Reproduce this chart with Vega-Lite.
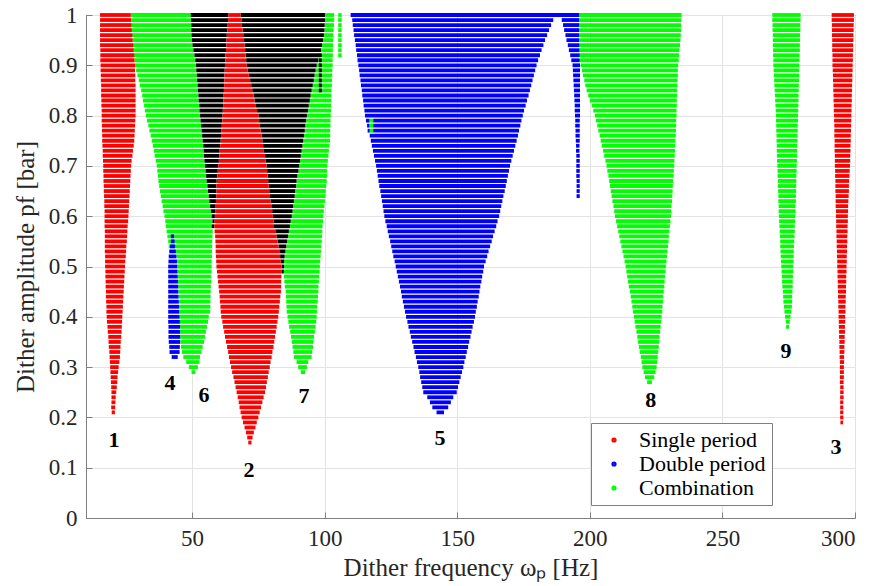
{
"$schema":"https://vega.github.io/schema/vega-lite/v6.json",
"width":769,"height":503,
"autosize":{"type":"none"},
"padding":{"left":86,"top":15,"right":18,"bottom":68},
"background":"white",
"config":{
"view":{"stroke":"#7f7f7f","strokeWidth":1},
"axis":{"labelFont":"Liberation Serif","titleFont":"Liberation Serif","labelFontSize":23,"titleFontSize":25,"titleFontWeight":"normal","labelColor":"#262626","titleColor":"#262626","domainColor":"#7f7f7f","tickColor":"#7f7f7f","gridColor":"#e3e3e3","tickSize":-6,"labelPadding":15}
},
"datasets":{
"S":[
{"y":1,"a":15.3,"b":26.9},{"y":0.99,"a":15.3,"b":27.0},{"y":0.98,"a":15.3,"b":27.2},{"y":0.97,"a":15.3,"b":27.3},{"y":0.96,"a":15.3,"b":27.5},{"y":0.95,"a":15.3,"b":27.6},{"y":0.94,"a":15.3,"b":27.8},{"y":0.93,"a":15.4,"b":28.0},{"y":0.92,"a":15.4,"b":28.2},{"y":0.91,"a":15.4,"b":28.3},
{"y":0.9,"a":15.5,"b":28.5},{"y":0.89,"a":15.5,"b":28.5},{"y":0.88,"a":15.6,"b":28.6},{"y":0.87,"a":15.6,"b":28.6},{"y":0.86,"a":15.7,"b":28.7},{"y":0.85,"a":15.7,"b":28.7},{"y":0.84,"a":15.7,"b":28.7},{"y":0.83,"a":15.8,"b":28.7},{"y":0.82,"a":15.8,"b":28.7},{"y":0.81,"a":15.9,"b":28.7},
{"y":0.8,"a":15.9,"b":28.7},{"y":0.79,"a":15.9,"b":28.6},{"y":0.78,"a":16.0,"b":28.5},{"y":0.77,"a":16.0,"b":28.4},{"y":0.76,"a":16.1,"b":28.3},{"y":0.75,"a":16.1,"b":28.2},{"y":0.74,"a":16.2,"b":28.0},{"y":0.73,"a":16.3,"b":27.7},{"y":0.72,"a":16.3,"b":27.5},{"y":0.71,"a":16.4,"b":27.2},
{"y":0.7,"a":16.5,"b":27.0},{"y":0.69,"a":16.5,"b":26.9},{"y":0.68,"a":16.6,"b":26.8},{"y":0.67,"a":16.6,"b":26.7},{"y":0.66,"a":16.7,"b":26.6},{"y":0.65,"a":16.7,"b":26.5},{"y":0.64,"a":16.8,"b":26.4},{"y":0.63,"a":16.9,"b":26.3},{"y":0.62,"a":16.9,"b":26.2},{"y":0.61,"a":17.0,"b":26.1},
{"y":0.6,"a":17.0,"b":26.0},{"y":0.59,"a":17.0,"b":25.9},{"y":0.58,"a":17.0,"b":25.7},{"y":0.57,"a":17.1,"b":25.6},{"y":0.56,"a":17.1,"b":25.5},{"y":0.55,"a":17.1,"b":25.4},{"y":0.54,"a":17.1,"b":25.2},{"y":0.53,"a":17.1,"b":25.1},{"y":0.52,"a":17.2,"b":25.0},{"y":0.51,"a":17.2,"b":24.8},
{"y":0.5,"a":17.2,"b":24.7},{"y":0.49,"a":17.3,"b":24.6},{"y":0.48,"a":17.3,"b":24.5},{"y":0.47,"a":17.4,"b":24.4},{"y":0.46,"a":17.4,"b":24.3},{"y":0.45,"a":17.5,"b":24.2},{"y":0.44,"a":17.5,"b":24.1},{"y":0.43,"a":17.6,"b":24.0},{"y":0.42,"a":17.7,"b":23.9},{"y":0.41,"a":17.7,"b":23.8},
{"y":0.4,"a":17.8,"b":23.7},{"y":0.39,"a":17.9,"b":23.6},{"y":0.38,"a":18.1,"b":23.5},{"y":0.37,"a":18.2,"b":23.4},{"y":0.36,"a":18.4,"b":23.3},{"y":0.35,"a":18.5,"b":23.1},{"y":0.34,"a":18.6,"b":23.0},{"y":0.33,"a":18.8,"b":22.9},{"y":0.32,"a":18.9,"b":22.8},{"y":0.31,"a":19.0,"b":22.6},
{"y":0.3,"a":19.1,"b":22.3},{"y":0.29,"a":19.2,"b":22.1},{"y":0.28,"a":19.3,"b":21.9},{"y":0.27,"a":19.4,"b":21.8},{"y":0.26,"a":19.5,"b":21.6},{"y":0.25,"a":19.6,"b":21.4},{"y":0.24,"a":19.6,"b":21.2},{"y":0.23,"a":19.6,"b":21.1},{"y":0.22,"a":19.5,"b":21.0},{"y":0.21,"a":19.7,"b":20.9},
{"y":1,"a":63.7,"b":68.3},{"y":0.99,"a":63.6,"b":68.6},{"y":0.98,"a":63.4,"b":68.8},{"y":0.97,"a":63.3,"b":69.1},{"y":0.96,"a":63.1,"b":69.3},{"y":0.95,"a":63.0,"b":69.6},{"y":0.94,"a":62.9,"b":69.8},{"y":0.93,"a":62.8,"b":70.0},{"y":0.92,"a":62.6,"b":70.2},{"y":0.91,"a":62.5,"b":70.4},
{"y":0.9,"a":62.4,"b":70.6},{"y":0.89,"a":62.3,"b":71.0},{"y":0.88,"a":62.2,"b":71.4},{"y":0.87,"a":62.2,"b":71.9},{"y":0.86,"a":62.1,"b":72.3},{"y":0.85,"a":62.0,"b":72.7},{"y":0.84,"a":61.9,"b":73.2},{"y":0.83,"a":61.8,"b":73.6},{"y":0.82,"a":61.7,"b":74.1},{"y":0.81,"a":61.6,"b":74.5},
{"y":0.8,"a":61.5,"b":75.0},{"y":0.79,"a":61.4,"b":75.3},{"y":0.78,"a":61.2,"b":75.6},{"y":0.77,"a":61.1,"b":75.9},{"y":0.76,"a":60.9,"b":76.2},{"y":0.75,"a":60.8,"b":76.5},{"y":0.74,"a":60.6,"b":76.8},{"y":0.73,"a":60.4,"b":77.1},{"y":0.72,"a":60.3,"b":77.5},{"y":0.71,"a":60.1,"b":77.8},
{"y":0.7,"a":59.9,"b":78.1},{"y":0.69,"a":59.7,"b":78.3},{"y":0.68,"a":59.5,"b":78.5},{"y":0.67,"a":59.3,"b":78.7},{"y":0.66,"a":59.2,"b":78.9},{"y":0.65,"a":59.2,"b":79.1},{"y":0.64,"a":59.1,"b":79.4},{"y":0.63,"a":59.0,"b":79.6},{"y":0.62,"a":58.9,"b":79.9},{"y":0.61,"a":58.7,"b":80.2},
{"y":0.6,"a":58.6,"b":80.5},{"y":0.59,"a":58.5,"b":80.7},{"y":0.58,"a":58.4,"b":80.9},{"y":0.57,"a":58.5,"b":81.4},{"y":0.56,"a":58.7,"b":81.8},{"y":0.55,"a":58.8,"b":82.3},{"y":0.54,"a":58.9,"b":82.6},{"y":0.53,"a":58.9,"b":82.9},{"y":0.52,"a":59.0,"b":83.2},{"y":0.51,"a":59.1,"b":83.5},
{"y":0.5,"a":59.2,"b":83.8},{"y":0.49,"a":59.4,"b":83.7},{"y":0.48,"a":59.6,"b":83.7},{"y":0.47,"a":59.8,"b":83.6},{"y":0.46,"a":60.0,"b":83.6},{"y":0.45,"a":60.2,"b":83.5},{"y":0.44,"a":60.4,"b":83.3},{"y":0.43,"a":60.5,"b":83.1},{"y":0.42,"a":60.7,"b":82.9},{"y":0.41,"a":60.8,"b":82.7},
{"y":0.4,"a":61.0,"b":82.5},{"y":0.39,"a":61.4,"b":82.2},{"y":0.38,"a":61.7,"b":81.9},{"y":0.37,"a":62.1,"b":81.6},{"y":0.36,"a":62.4,"b":81.3},{"y":0.35,"a":62.8,"b":81.0},{"y":0.34,"a":63.2,"b":80.7},{"y":0.33,"a":63.6,"b":80.3},{"y":0.32,"a":63.9,"b":80.0},{"y":0.31,"a":64.3,"b":79.6},
{"y":0.3,"a":64.7,"b":79.3},{"y":0.29,"a":65.1,"b":78.9},{"y":0.28,"a":65.6,"b":78.6},{"y":0.27,"a":66.0,"b":78.2},{"y":0.26,"a":66.4,"b":77.9},{"y":0.25,"a":66.8,"b":77.5},{"y":0.24,"a":67.2,"b":77.0},{"y":0.23,"a":67.6,"b":76.5},{"y":0.22,"a":67.9,"b":76.0},{"y":0.21,"a":68.3,"b":75.5},
{"y":0.2,"a":68.7,"b":75.0},{"y":0.19,"a":69.2,"b":74.4},{"y":0.18,"a":69.8,"b":73.9},{"y":0.17,"a":70.3,"b":73.3},{"y":0.16,"a":70.8,"b":72.8},{"y":0.15,"a":71.2,"b":72.4},
{"y":1,"a":291.2,"b":299.6},{"y":0.99,"a":291.2,"b":299.6},{"y":0.98,"a":291.3,"b":299.5},{"y":0.97,"a":291.3,"b":299.5},{"y":0.96,"a":291.3,"b":299.4},{"y":0.95,"a":291.4,"b":299.4},{"y":0.94,"a":291.4,"b":299.3},{"y":0.93,"a":291.4,"b":299.3},{"y":0.92,"a":291.5,"b":299.2},{"y":0.91,"a":291.5,"b":299.2},
{"y":0.9,"a":291.5,"b":299.1},{"y":0.89,"a":291.6,"b":299.1},{"y":0.88,"a":291.7,"b":299.0},{"y":0.87,"a":291.7,"b":299.0},{"y":0.86,"a":291.8,"b":298.9},{"y":0.85,"a":291.8,"b":298.9},{"y":0.84,"a":291.9,"b":298.8},{"y":0.83,"a":291.9,"b":298.8},{"y":0.82,"a":292.0,"b":298.7},{"y":0.81,"a":292.0,"b":298.7},
{"y":0.8,"a":292.1,"b":298.6},{"y":0.79,"a":292.1,"b":298.6},{"y":0.78,"a":292.2,"b":298.5},{"y":0.77,"a":292.2,"b":298.5},{"y":0.76,"a":292.2,"b":298.4},{"y":0.75,"a":292.3,"b":298.4},{"y":0.74,"a":292.3,"b":298.3},{"y":0.73,"a":292.3,"b":298.3},{"y":0.72,"a":292.4,"b":298.2},{"y":0.71,"a":292.4,"b":298.2},
{"y":0.7,"a":292.4,"b":298.1},{"y":0.69,"a":292.5,"b":298.0},{"y":0.68,"a":292.5,"b":297.9},{"y":0.67,"a":292.6,"b":297.8},{"y":0.66,"a":292.6,"b":297.7},{"y":0.65,"a":292.6,"b":297.7},{"y":0.64,"a":292.7,"b":297.6},{"y":0.63,"a":292.7,"b":297.5},{"y":0.62,"a":292.7,"b":297.4},{"y":0.61,"a":292.8,"b":297.4},
{"y":0.6,"a":292.8,"b":297.3},{"y":0.59,"a":292.9,"b":297.3},{"y":0.58,"a":292.9,"b":297.2},{"y":0.57,"a":293.0,"b":297.2},{"y":0.56,"a":293.0,"b":297.1},{"y":0.55,"a":293.1,"b":297.1},{"y":0.54,"a":293.1,"b":297.0},{"y":0.53,"a":293.2,"b":297.0},{"y":0.52,"a":293.2,"b":296.9},{"y":0.51,"a":293.3,"b":296.9},
{"y":0.5,"a":293.3,"b":296.8},{"y":0.49,"a":293.4,"b":296.8},{"y":0.48,"a":293.4,"b":296.7},{"y":0.47,"a":293.5,"b":296.7},{"y":0.46,"a":293.5,"b":296.6},{"y":0.45,"a":293.6,"b":296.6},{"y":0.44,"a":293.6,"b":296.5},{"y":0.43,"a":293.7,"b":296.5},{"y":0.42,"a":293.7,"b":296.4},{"y":0.41,"a":293.8,"b":296.4},
{"y":0.4,"a":293.8,"b":296.3},{"y":0.39,"a":293.9,"b":296.3},{"y":0.38,"a":293.9,"b":296.2},{"y":0.37,"a":294.0,"b":296.2},{"y":0.36,"a":294.0,"b":296.1},{"y":0.35,"a":294.1,"b":296.1},{"y":0.34,"a":294.1,"b":296.0},{"y":0.33,"a":294.2,"b":296.0},{"y":0.32,"a":294.2,"b":295.9},{"y":0.31,"a":294.3,"b":295.9},
{"y":0.3,"a":294.3,"b":295.8},{"y":0.29,"a":294.3,"b":295.8},{"y":0.28,"a":294.3,"b":295.8},{"y":0.27,"a":294.3,"b":295.7},{"y":0.26,"a":294.4,"b":295.7},{"y":0.25,"a":294.4,"b":295.7},{"y":0.24,"a":294.4,"b":295.7},{"y":0.23,"a":294.4,"b":295.6},{"y":0.22,"a":294.4,"b":295.6},{"y":0.21,"a":294.4,"b":295.6},
{"y":0.2,"a":294.4,"b":295.6},{"y":0.19,"a":294.5,"b":295.5}
],
"D":[
{"y":1,"a":109.8,"b":196.0},{"y":0.99,"a":110.4,"b":186.2},{"y":0.98,"a":110.6,"b":185.4},{"y":0.97,"a":110.9,"b":184.6},{"y":0.96,"a":111.1,"b":183.9},{"y":0.95,"a":111.4,"b":183.1},{"y":0.94,"a":111.7,"b":182.5},{"y":0.93,"a":111.9,"b":181.8},{"y":0.92,"a":112.2,"b":181.2},{"y":0.91,"a":112.4,"b":180.5},
{"y":0.9,"a":112.7,"b":179.9},{"y":0.89,"a":113.0,"b":179.4},{"y":0.88,"a":113.2,"b":178.9},{"y":0.87,"a":113.5,"b":178.4},{"y":0.86,"a":113.7,"b":177.9},{"y":0.85,"a":114.0,"b":177.4},{"y":0.84,"a":114.2,"b":176.9},{"y":0.83,"a":114.5,"b":176.3},{"y":0.82,"a":114.7,"b":175.8},{"y":0.81,"a":115.0,"b":175.2},
{"y":0.8,"a":115.2,"b":174.7},{"y":0.79,"a":115.6,"b":116.9},{"y":0.79,"a":118.3,"b":174.2},{"y":0.78,"a":116.0,"b":116.9},{"y":0.78,"a":118.3,"b":173.8},{"y":0.77,"a":116.2,"b":117.0},{"y":0.77,"a":118.3,"b":173.3},{"y":0.76,"a":117.0,"b":172.9},{"y":0.75,"a":117.4,"b":172.4},{"y":0.74,"a":117.8,"b":171.9},{"y":0.73,"a":118.2,"b":171.4},{"y":0.72,"a":118.6,"b":170.9},{"y":0.71,"a":119.0,"b":170.4},
{"y":0.7,"a":119.4,"b":169.9},{"y":0.69,"a":119.7,"b":169.5},{"y":0.68,"a":120.0,"b":169.1},{"y":0.67,"a":120.3,"b":168.7},{"y":0.66,"a":120.6,"b":168.3},{"y":0.65,"a":121.0,"b":167.9},{"y":0.64,"a":121.3,"b":167.4},{"y":0.63,"a":121.6,"b":167.0},{"y":0.62,"a":121.9,"b":166.6},{"y":0.61,"a":122.2,"b":166.2},
{"y":0.6,"a":122.5,"b":165.8},{"y":0.59,"a":122.9,"b":165.2},{"y":0.58,"a":123.4,"b":164.7},{"y":0.57,"a":123.8,"b":164.1},{"y":0.56,"a":124.2,"b":163.5},{"y":0.55,"a":124.7,"b":163.0},{"y":0.54,"a":125.1,"b":162.4},{"y":0.53,"a":125.5,"b":161.8},{"y":0.52,"a":125.9,"b":161.3},{"y":0.51,"a":126.4,"b":160.7},
{"y":0.5,"a":126.8,"b":160.1},{"y":0.49,"a":127.2,"b":159.8},{"y":0.48,"a":127.6,"b":159.4},{"y":0.47,"a":128.0,"b":159.1},{"y":0.46,"a":128.4,"b":158.7},{"y":0.45,"a":128.8,"b":158.4},{"y":0.44,"a":129.1,"b":158.1},{"y":0.43,"a":129.5,"b":157.7},{"y":0.42,"a":129.9,"b":157.4},{"y":0.41,"a":130.3,"b":157.0},
{"y":0.4,"a":130.7,"b":156.7},{"y":0.39,"a":131.2,"b":156.3},{"y":0.38,"a":131.6,"b":155.8},{"y":0.37,"a":132.1,"b":155.4},{"y":0.36,"a":132.5,"b":155.0},{"y":0.35,"a":133.0,"b":154.5},{"y":0.34,"a":133.5,"b":154.1},{"y":0.33,"a":133.9,"b":153.6},{"y":0.32,"a":134.4,"b":153.2},{"y":0.31,"a":134.8,"b":152.7},
{"y":0.3,"a":135.3,"b":152.3},{"y":0.29,"a":135.7,"b":151.8},{"y":0.28,"a":136.0,"b":151.3},{"y":0.27,"a":136.4,"b":150.8},{"y":0.26,"a":136.8,"b":150.3},{"y":0.25,"a":137.2,"b":149.8},{"y":0.24,"a":138.7,"b":148.5},{"y":0.23,"a":139.7,"b":147.6},{"y":0.22,"a":140.6,"b":146.6},{"y":0.21,"a":142.2,"b":145.0},
{"y":0.99,"a":189.4,"b":196.0},{"y":0.98,"a":189.9,"b":196.0},{"y":0.97,"a":190.3,"b":196.0},{"y":0.96,"a":190.8,"b":196.0},{"y":0.95,"a":191.2,"b":196.0},{"y":0.94,"a":191.7,"b":196.1},{"y":0.93,"a":192.1,"b":196.1},{"y":0.92,"a":192.6,"b":196.2},{"y":0.91,"a":193.0,"b":196.2},{"y":0.9,"a":193.5,"b":196.3},
{"y":0.89,"a":193.6,"b":196.3},{"y":0.88,"a":193.7,"b":196.3},{"y":0.87,"a":193.8,"b":196.3},{"y":0.86,"a":193.9,"b":196.3},{"y":0.85,"a":194.0,"b":196.3},{"y":0.84,"a":194.1,"b":196.3},{"y":0.83,"a":194.2,"b":196.3},{"y":0.82,"a":194.3,"b":196.3},{"y":0.81,"a":194.3,"b":196.3},{"y":0.8,"a":194.4,"b":196.3},
{"y":0.79,"a":194.5,"b":196.2},{"y":0.78,"a":194.5,"b":196.2},{"y":0.77,"a":194.6,"b":196.2},{"y":0.76,"a":194.6,"b":196.2},{"y":0.75,"a":194.7,"b":196.2},{"y":0.74,"a":194.8,"b":196.1},{"y":0.73,"a":194.8,"b":196.1},{"y":0.72,"a":194.9,"b":196.2},{"y":0.71,"a":194.9,"b":196.2},{"y":0.7,"a":194.9,"b":196.2},
{"y":0.69,"a":194.9,"b":196.2},{"y":0.68,"a":194.9,"b":196.2},{"y":0.67,"a":195.0,"b":196.2},{"y":0.66,"a":195.0,"b":196.2},{"y":0.65,"a":195.0,"b":196.2},{"y":0.64,"a":195.0,"b":196.2},
{"y":0.56,"a":42.0,"b":43.2},{"y":0.55,"a":42.0,"b":43.4},{"y":0.54,"a":41.7,"b":43.6},{"y":0.53,"a":41.4,"b":43.9},{"y":0.52,"a":41.2,"b":44.1},{"y":0.51,"a":41.1,"b":44.3},{"y":0.5,"a":41.0,"b":44.4},{"y":0.49,"a":41.0,"b":44.5},{"y":0.48,"a":41.0,"b":44.6},{"y":0.47,"a":41.0,"b":44.7},
{"y":0.46,"a":41.0,"b":44.8},{"y":0.45,"a":41.0,"b":44.8},{"y":0.44,"a":41.0,"b":44.9},{"y":0.43,"a":41.0,"b":45.0},{"y":0.42,"a":41.0,"b":45.1},{"y":0.41,"a":41.0,"b":45.2},{"y":0.4,"a":41.0,"b":45.3},{"y":0.39,"a":41.0,"b":45.4},{"y":0.38,"a":41.1,"b":45.5},{"y":0.37,"a":41.1,"b":45.5},
{"y":0.36,"a":41.1,"b":45.5},{"y":0.35,"a":41.2,"b":45.5},{"y":0.34,"a":41.4,"b":45.4},{"y":0.33,"a":41.5,"b":45.3},{"y":0.32,"a":42.3,"b":44.6}
],
"C":[
{"y":1,"a":26.9,"b":49.5},{"y":0.99,"a":27.0,"b":49.6},{"y":0.98,"a":27.1,"b":49.7},{"y":0.97,"a":27.3,"b":49.7},{"y":0.96,"a":27.4,"b":49.8},{"y":0.95,"a":27.5,"b":49.9},{"y":0.94,"a":27.7,"b":50.2},{"y":0.93,"a":27.9,"b":50.5},{"y":0.92,"a":28.1,"b":50.9},{"y":0.91,"a":28.3,"b":51.2},
{"y":0.9,"a":28.5,"b":51.5},{"y":0.89,"a":28.9,"b":51.6},{"y":0.88,"a":29.4,"b":51.8},{"y":0.87,"a":29.9,"b":51.9},{"y":0.86,"a":30.3,"b":52.1},{"y":0.85,"a":30.8,"b":52.2},{"y":0.84,"a":31.2,"b":52.4},{"y":0.83,"a":31.5,"b":52.5},{"y":0.82,"a":31.9,"b":52.7},{"y":0.81,"a":32.2,"b":52.8},
{"y":0.8,"a":32.6,"b":53.0},{"y":0.79,"a":33.0,"b":53.2},{"y":0.78,"a":33.5,"b":53.4},{"y":0.77,"a":33.9,"b":53.6},{"y":0.76,"a":34.4,"b":53.8},{"y":0.75,"a":34.8,"b":54.0},{"y":0.74,"a":35.2,"b":54.2},{"y":0.73,"a":35.6,"b":54.4},{"y":0.72,"a":35.9,"b":54.5},{"y":0.71,"a":36.3,"b":54.7},
{"y":0.7,"a":36.7,"b":54.9},{"y":0.69,"a":36.9,"b":55.1},{"y":0.68,"a":37.1,"b":55.3},{"y":0.67,"a":37.3,"b":55.5},{"y":0.66,"a":37.6,"b":55.8},{"y":0.65,"a":37.9,"b":56.0},{"y":0.64,"a":38.2,"b":56.3},{"y":0.63,"a":38.5,"b":56.5},{"y":0.62,"a":38.9,"b":56.8},{"y":0.61,"a":39.2,"b":57.1},
{"y":0.6,"a":39.6,"b":57.4},{"y":0.59,"a":39.9,"b":57.7},{"y":0.58,"a":40.1,"b":57.4},{"y":0.57,"a":40.4,"b":57.8},{"y":0.56,"a":40.7,"b":57.7},{"y":0.55,"a":41.0,"b":57.6},{"y":0.54,"a":41.2,"b":57.6},{"y":0.53,"a":43.9,"b":57.5},{"y":0.52,"a":44.1,"b":57.5},{"y":0.51,"a":44.3,"b":57.4},
{"y":0.5,"a":44.4,"b":57.4},{"y":0.49,"a":44.5,"b":57.3},{"y":0.48,"a":44.6,"b":57.2},{"y":0.47,"a":44.7,"b":57.2},{"y":0.46,"a":44.8,"b":57.1},{"y":0.45,"a":44.8,"b":57.0},{"y":0.44,"a":44.9,"b":57.0},{"y":0.43,"a":45.0,"b":56.9},{"y":0.42,"a":45.1,"b":56.9},{"y":0.41,"a":45.2,"b":56.8},
{"y":0.4,"a":45.3,"b":56.3},{"y":0.39,"a":45.4,"b":56.0},{"y":0.38,"a":45.5,"b":55.6},{"y":0.37,"a":45.5,"b":55.2},{"y":0.36,"a":45.5,"b":54.9},{"y":0.35,"a":45.6,"b":54.5},{"y":0.34,"a":45.8,"b":54.0},{"y":0.33,"a":46.2,"b":53.5},{"y":0.32,"a":46.7,"b":53.0},{"y":0.31,"a":47.8,"b":52.8},
{"y":0.3,"a":48.8,"b":52.2},{"y":0.29,"a":49.8,"b":51.2},
{"y":1,"a":100.1,"b":103.6},{"y":0.99,"a":100.1,"b":103.6},{"y":0.98,"a":100.0,"b":103.5},{"y":0.97,"a":99.9,"b":103.4},{"y":0.96,"a":99.7,"b":103.3},{"y":0.95,"a":99.4,"b":103.2},{"y":0.94,"a":99.0,"b":103.2},{"y":0.93,"a":98.6,"b":103.1},{"y":0.92,"a":98.1,"b":103.1},{"y":0.91,"a":97.6,"b":103.0},
{"y":0.9,"a":97.0,"b":103.0},{"y":0.89,"a":96.6,"b":102.9},{"y":0.88,"a":96.2,"b":102.8},{"y":0.87,"a":95.9,"b":102.8},{"y":0.86,"a":95.5,"b":102.7},{"y":0.85,"a":95.1,"b":102.6},{"y":0.84,"a":94.7,"b":102.5},{"y":0.83,"a":94.4,"b":102.5},{"y":0.82,"a":94.0,"b":102.4},{"y":0.81,"a":93.7,"b":102.4},
{"y":0.8,"a":93.3,"b":102.3},{"y":0.79,"a":93.0,"b":102.2},{"y":0.78,"a":92.7,"b":102.2},{"y":0.77,"a":92.5,"b":102.1},{"y":0.76,"a":92.2,"b":102.1},{"y":0.75,"a":91.9,"b":102.0},{"y":0.74,"a":91.6,"b":101.8},{"y":0.73,"a":91.3,"b":101.6},{"y":0.72,"a":91.0,"b":101.4},{"y":0.71,"a":90.7,"b":101.2},
{"y":0.7,"a":90.4,"b":101.0},{"y":0.69,"a":90.1,"b":100.9},{"y":0.68,"a":89.7,"b":100.9},{"y":0.67,"a":89.4,"b":100.8},{"y":0.66,"a":89.2,"b":100.6},{"y":0.65,"a":88.9,"b":100.4},{"y":0.64,"a":88.7,"b":100.3},{"y":0.63,"a":88.4,"b":100.1},{"y":0.62,"a":88.1,"b":99.9},{"y":0.61,"a":87.9,"b":99.7},
{"y":0.6,"a":87.6,"b":99.5},{"y":0.59,"a":87.2,"b":99.4},{"y":0.58,"a":86.9,"b":99.2},{"y":0.57,"a":86.5,"b":99.1},{"y":0.56,"a":86.2,"b":99.0},{"y":0.55,"a":85.8,"b":98.9},{"y":0.54,"a":85.5,"b":98.7},{"y":0.53,"a":85.2,"b":98.6},{"y":0.52,"a":84.9,"b":98.5},{"y":0.51,"a":84.7,"b":98.3},
{"y":0.5,"a":84.7,"b":98.2},{"y":0.49,"a":84.6,"b":98.1},{"y":0.48,"a":84.6,"b":98.0},{"y":0.47,"a":84.8,"b":97.8},{"y":0.46,"a":85.0,"b":97.7},{"y":0.45,"a":85.3,"b":97.6},{"y":0.44,"a":85.4,"b":97.5},{"y":0.43,"a":85.5,"b":97.4},{"y":0.42,"a":85.6,"b":97.2},{"y":0.41,"a":85.7,"b":97.1},
{"y":0.4,"a":86.0,"b":97.0},{"y":0.39,"a":86.3,"b":96.8},{"y":0.38,"a":86.6,"b":96.6},{"y":0.37,"a":87.0,"b":96.3},{"y":0.36,"a":87.3,"b":96.0},{"y":0.35,"a":87.6,"b":95.8},{"y":0.34,"a":87.9,"b":95.6},{"y":0.33,"a":88.2,"b":95.3},{"y":0.32,"a":88.4,"b":95.1},{"y":0.31,"a":89.4,"b":93.8},
{"y":0.3,"a":90.0,"b":93.3},{"y":0.29,"a":91.0,"b":92.6},
{"y":1,"a":105.1,"b":106.4},{"y":0.99,"a":105.1,"b":106.4},{"y":0.98,"a":105.1,"b":106.4},{"y":0.97,"a":105.1,"b":106.4},{"y":0.96,"a":105.1,"b":106.4},{"y":0.95,"a":105.1,"b":106.4},{"y":0.94,"a":105.1,"b":106.4},{"y":0.93,"a":105.1,"b":106.4},{"y":0.92,"a":105.1,"b":106.4},
{"y":0.79,"a":116.9,"b":118.3},{"y":0.78,"a":116.9,"b":118.3},{"y":0.77,"a":117.0,"b":118.3},
{"y":1,"a":196.0,"b":234.6},{"y":0.99,"a":196.0,"b":234.5},{"y":0.98,"a":196.0,"b":234.4},{"y":0.97,"a":196.0,"b":234.4},{"y":0.96,"a":196.0,"b":234.3},{"y":0.95,"a":196.0,"b":234.2},{"y":0.94,"a":196.1,"b":234.0},{"y":0.93,"a":196.1,"b":233.8},{"y":0.92,"a":196.2,"b":233.7},{"y":0.91,"a":196.3,"b":233.5},
{"y":0.9,"a":196.5,"b":233.3},{"y":0.89,"a":197.0,"b":233.2},{"y":0.88,"a":197.4,"b":233.2},{"y":0.87,"a":197.9,"b":233.1},{"y":0.86,"a":198.3,"b":233.0},{"y":0.85,"a":198.8,"b":232.9},{"y":0.84,"a":199.4,"b":232.9},{"y":0.83,"a":200.0,"b":232.8},{"y":0.82,"a":200.7,"b":232.8},{"y":0.81,"a":201.3,"b":232.7},
{"y":0.8,"a":201.9,"b":232.7},{"y":0.79,"a":202.3,"b":232.6},{"y":0.78,"a":202.8,"b":232.5},{"y":0.77,"a":203.2,"b":232.5},{"y":0.76,"a":203.7,"b":232.4},{"y":0.75,"a":204.1,"b":232.3},{"y":0.74,"a":204.5,"b":232.2},{"y":0.73,"a":205.0,"b":232.1},{"y":0.72,"a":205.4,"b":232.0},{"y":0.71,"a":205.9,"b":231.9},
{"y":0.7,"a":206.3,"b":231.8},{"y":0.69,"a":206.6,"b":231.7},{"y":0.68,"a":207.0,"b":231.6},{"y":0.67,"a":207.3,"b":231.4},{"y":0.66,"a":207.6,"b":231.3},{"y":0.65,"a":207.9,"b":231.2},{"y":0.64,"a":208.2,"b":231.1},{"y":0.63,"a":208.5,"b":231.0},{"y":0.62,"a":208.9,"b":230.8},{"y":0.61,"a":209.2,"b":230.7},
{"y":0.6,"a":209.5,"b":230.6},{"y":0.59,"a":209.9,"b":230.4},{"y":0.58,"a":210.3,"b":230.2},{"y":0.57,"a":210.7,"b":230.0},{"y":0.56,"a":211.1,"b":229.8},{"y":0.55,"a":211.5,"b":229.7},{"y":0.54,"a":211.9,"b":229.5},{"y":0.53,"a":212.3,"b":229.3},{"y":0.52,"a":212.7,"b":229.1},{"y":0.51,"a":213.1,"b":228.9},
{"y":0.5,"a":213.5,"b":228.7},{"y":0.49,"a":213.8,"b":228.5},{"y":0.48,"a":214.1,"b":228.4},{"y":0.47,"a":214.4,"b":228.2},{"y":0.46,"a":214.7,"b":228.1},{"y":0.45,"a":215.1,"b":227.9},{"y":0.44,"a":215.4,"b":227.7},{"y":0.43,"a":215.7,"b":227.6},{"y":0.42,"a":216.0,"b":227.4},{"y":0.41,"a":216.3,"b":227.3},
{"y":0.4,"a":216.6,"b":227.1},{"y":0.39,"a":216.9,"b":226.9},{"y":0.38,"a":217.2,"b":226.7},{"y":0.37,"a":217.6,"b":226.5},{"y":0.36,"a":217.9,"b":226.3},{"y":0.35,"a":218.2,"b":226.2},{"y":0.34,"a":218.5,"b":226.0},{"y":0.33,"a":218.8,"b":225.8},{"y":0.32,"a":219.2,"b":225.6},{"y":0.31,"a":219.5,"b":225.4},
{"y":0.3,"a":219.8,"b":225.2},{"y":0.29,"a":220.3,"b":224.8},{"y":0.28,"a":220.8,"b":224.3},{"y":0.27,"a":221.6,"b":223.4},
{"y":1,"a":268.8,"b":279.5},{"y":0.99,"a":268.8,"b":279.5},{"y":0.98,"a":268.9,"b":279.4},{"y":0.97,"a":268.9,"b":279.4},{"y":0.96,"a":269.0,"b":279.3},{"y":0.95,"a":269.0,"b":279.3},{"y":0.94,"a":269.0,"b":279.2},{"y":0.93,"a":269.1,"b":279.2},{"y":0.92,"a":269.1,"b":279.1},{"y":0.91,"a":269.2,"b":279.1},
{"y":0.9,"a":269.2,"b":279.0},{"y":0.89,"a":269.3,"b":279.0},{"y":0.88,"a":269.4,"b":278.9},{"y":0.87,"a":269.5,"b":278.9},{"y":0.86,"a":269.6,"b":278.8},{"y":0.85,"a":269.7,"b":278.8},{"y":0.84,"a":269.8,"b":278.7},{"y":0.83,"a":269.9,"b":278.7},{"y":0.82,"a":270.0,"b":278.6},{"y":0.81,"a":270.1,"b":278.6},
{"y":0.8,"a":270.2,"b":278.5},{"y":0.79,"a":270.2,"b":278.5},{"y":0.78,"a":270.3,"b":278.4},{"y":0.77,"a":270.3,"b":278.4},{"y":0.76,"a":270.4,"b":278.3},{"y":0.75,"a":270.4,"b":278.3},{"y":0.74,"a":270.5,"b":278.2},{"y":0.73,"a":270.5,"b":278.2},{"y":0.72,"a":270.6,"b":278.1},{"y":0.71,"a":270.6,"b":278.1},
{"y":0.7,"a":270.7,"b":278.0},{"y":0.69,"a":270.8,"b":278.0},{"y":0.68,"a":270.8,"b":277.9},{"y":0.67,"a":270.9,"b":277.9},{"y":0.66,"a":270.9,"b":277.8},{"y":0.65,"a":271.0,"b":277.8},{"y":0.64,"a":271.1,"b":277.7},{"y":0.63,"a":271.1,"b":277.7},{"y":0.62,"a":271.2,"b":277.6},{"y":0.61,"a":271.2,"b":277.6},
{"y":0.6,"a":271.3,"b":277.5},{"y":0.59,"a":271.4,"b":277.4},{"y":0.58,"a":271.5,"b":277.3},{"y":0.57,"a":271.6,"b":277.3},{"y":0.56,"a":271.7,"b":277.2},{"y":0.55,"a":271.8,"b":277.1},{"y":0.54,"a":271.8,"b":277.0},{"y":0.53,"a":271.9,"b":276.9},{"y":0.52,"a":272.0,"b":276.9},{"y":0.51,"a":272.1,"b":276.8},
{"y":0.5,"a":272.2,"b":276.7},{"y":0.49,"a":272.3,"b":276.7},{"y":0.48,"a":272.4,"b":276.6},{"y":0.47,"a":272.5,"b":276.5},{"y":0.46,"a":272.6,"b":276.5},{"y":0.45,"a":272.8,"b":276.4},{"y":0.44,"a":272.9,"b":276.3},{"y":0.43,"a":273.0,"b":276.3},{"y":0.42,"a":273.2,"b":276.2},{"y":0.41,"a":273.4,"b":276.0},
{"y":0.4,"a":273.6,"b":275.7},{"y":0.39,"a":273.9,"b":275.4},{"y":0.38,"a":274.0,"b":275.1}
],
"K":[
{"y":1,"a":49.5,"b":63.7},{"y":0.99,"a":49.6,"b":63.6},{"y":0.98,"a":49.7,"b":63.4},{"y":0.97,"a":49.7,"b":63.3},{"y":0.96,"a":49.8,"b":63.1},{"y":0.95,"a":49.9,"b":63.0},{"y":0.94,"a":50.2,"b":62.9},{"y":0.93,"a":50.5,"b":62.8},{"y":0.92,"a":50.9,"b":62.6},{"y":0.91,"a":51.2,"b":62.5},
{"y":0.9,"a":51.5,"b":62.4},{"y":0.89,"a":51.6,"b":62.3},{"y":0.88,"a":51.8,"b":62.2},{"y":0.87,"a":51.9,"b":62.2},{"y":0.86,"a":52.1,"b":62.1},{"y":0.85,"a":52.2,"b":62.0},{"y":0.84,"a":52.4,"b":61.9},{"y":0.83,"a":52.5,"b":61.8},{"y":0.82,"a":52.7,"b":61.7},{"y":0.81,"a":52.8,"b":61.6},
{"y":0.8,"a":53.0,"b":61.5},{"y":0.79,"a":53.2,"b":61.4},{"y":0.78,"a":53.4,"b":61.2},{"y":0.77,"a":53.6,"b":61.1},{"y":0.76,"a":53.8,"b":60.9},{"y":0.75,"a":54.0,"b":60.8},{"y":0.74,"a":54.2,"b":60.6},{"y":0.73,"a":54.4,"b":60.4},{"y":0.72,"a":54.5,"b":60.3},{"y":0.71,"a":54.7,"b":60.1},
{"y":0.7,"a":54.9,"b":59.9},{"y":0.69,"a":55.1,"b":59.7},{"y":0.68,"a":55.3,"b":59.5},{"y":0.67,"a":55.5,"b":59.3},{"y":0.66,"a":55.8,"b":59.2},{"y":0.65,"a":56.0,"b":59.2},{"y":0.64,"a":56.3,"b":59.1},{"y":0.63,"a":56.5,"b":59.0},{"y":0.62,"a":56.8,"b":58.9},{"y":0.61,"a":57.1,"b":58.7},
{"y":0.6,"a":57.4,"b":58.6},{"y":0.59,"a":57.7,"b":58.5},{"y":0.58,"a":57.4,"b":58.4},
{"y":1,"a":68.3,"b":100.1},{"y":0.99,"a":68.6,"b":100.1},{"y":0.98,"a":68.8,"b":100.0},{"y":0.97,"a":69.1,"b":99.9},{"y":0.96,"a":69.3,"b":99.7},{"y":0.95,"a":69.6,"b":99.4},{"y":0.94,"a":69.8,"b":99.0},{"y":0.93,"a":70.0,"b":98.6},{"y":0.92,"a":70.2,"b":98.1},{"y":0.91,"a":70.4,"b":97.6},
{"y":0.9,"a":70.6,"b":97.0},{"y":0.89,"a":71.0,"b":96.6},{"y":0.88,"a":71.4,"b":96.2},{"y":0.87,"a":71.9,"b":95.9},{"y":0.86,"a":72.3,"b":95.5},{"y":0.85,"a":72.7,"b":95.1},{"y":0.84,"a":73.2,"b":94.7},{"y":0.83,"a":73.6,"b":94.4},{"y":0.82,"a":74.1,"b":94.0},{"y":0.81,"a":74.5,"b":93.7},
{"y":0.8,"a":75.0,"b":93.3},{"y":0.79,"a":75.3,"b":93.0},{"y":0.78,"a":75.6,"b":92.7},{"y":0.77,"a":75.9,"b":92.5},{"y":0.76,"a":76.2,"b":92.2},{"y":0.75,"a":76.5,"b":91.9},{"y":0.74,"a":76.8,"b":91.6},{"y":0.73,"a":77.1,"b":91.3},{"y":0.72,"a":77.5,"b":91.0},{"y":0.71,"a":77.8,"b":90.7},
{"y":0.7,"a":78.1,"b":90.4},{"y":0.69,"a":78.3,"b":90.1},{"y":0.68,"a":78.5,"b":89.7},{"y":0.67,"a":78.7,"b":89.4},{"y":0.66,"a":78.9,"b":89.2},{"y":0.65,"a":79.1,"b":88.9},{"y":0.64,"a":79.4,"b":88.7},{"y":0.63,"a":79.6,"b":88.4},{"y":0.62,"a":79.9,"b":88.1},{"y":0.61,"a":80.2,"b":87.9},
{"y":0.6,"a":80.5,"b":87.6},{"y":0.59,"a":80.7,"b":87.2},{"y":0.58,"a":80.9,"b":86.9},{"y":0.57,"a":81.4,"b":86.5},{"y":0.56,"a":81.8,"b":86.2},{"y":0.55,"a":82.3,"b":85.8},{"y":0.54,"a":82.6,"b":85.5},{"y":0.53,"a":82.9,"b":85.2},{"y":0.52,"a":83.2,"b":84.9},{"y":0.51,"a":83.5,"b":84.7},
{"y":0.5,"a":83.8,"b":84.7},{"y":0.49,"a":83.7,"b":84.6},
{"y":0.92,"a":97.8,"b":98.9},{"y":0.91,"a":97.8,"b":98.9},{"y":0.9,"a":97.8,"b":98.9},{"y":0.89,"a":97.8,"b":98.9},{"y":0.88,"a":97.8,"b":98.9},{"y":0.87,"a":97.8,"b":98.9},{"y":0.86,"a":97.8,"b":98.9},{"y":0.85,"a":97.8,"b":98.9}
],
"L":[
{"t":"1","a":20.6,"y":0.155},{"t":"2","a":71.5,"y":0.095},{"t":"3","a":292.8,"y":0.141},{"t":"4","a":41.7,"y":0.268},{"t":"5","a":143.5,"y":0.159},{"t":"6","a":54.5,"y":0.245},{"t":"7","a":92.2,"y":0.243},{"t":"8","a":223.0,"y":0.235},{"t":"9","a":274.0,"y":0.332}
]
},
"encoding":{
"x":{"field":"a","type":"quantitative","scale":{"domain":[10,300],"nice":false},"axis":{"values":[50,100,150,200,250,300],"title":"Dither frequency  ωₚ [Hz]","titlePadding":5}},
"y":{"field":"y","type":"quantitative","scale":{"domain":[0,1],"nice":false},"axis":{"values":[0,0.1,0.2,0.3,0.4,0.5,0.6,0.7,0.8,0.9,1],"format":"~f","title":"Dither amplitude  pf [bar]","titlePadding":10}}
},
"layer":[
{"data":{"name":"C"},"mark":{"type":"rule","strokeWidth":3.8},"encoding":{"x2":{"field":"b"},"color":{"datum":"Combination","type":"nominal","scale":{"domain":["Single period","Double period","Combination"],"range":["#ff0000","#0000ff","#00ff00"]},"legend":{"title":null,"orient":"none","legendX":505,"legendY":408,"direction":"vertical","labelFont":"Liberation Serif","labelFontSize":22,"labelColor":"#000000","symbolType":"circle","symbolSize":5,"symbolStrokeWidth":3,"padding":6,"rowPadding":2,"symbolOffset":6,"labelOffset":14,"strokeColor":"#7f7f7f","fillColor":"#ffffff"}}}},
{"data":{"name":"K"},"mark":{"type":"rule","strokeWidth":3.8,"color":"#000000"},"encoding":{"x2":{"field":"b"}}},
{"data":{"name":"S"},"mark":{"type":"rule","strokeWidth":3.8},"encoding":{"x2":{"field":"b"},"color":{"datum":"Single period","type":"nominal"}}},
{"data":{"name":"D"},"mark":{"type":"rule","strokeWidth":3.8},"encoding":{"x2":{"field":"b"},"color":{"datum":"Double period","type":"nominal"}}},
{"data":{"name":"L"},"mark":{"type":"text","font":"Liberation Serif","fontSize":22,"fontWeight":"bold","color":"#000000","baseline":"middle","align":"center"},"encoding":{"text":{"field":"t"}}}
]
}
